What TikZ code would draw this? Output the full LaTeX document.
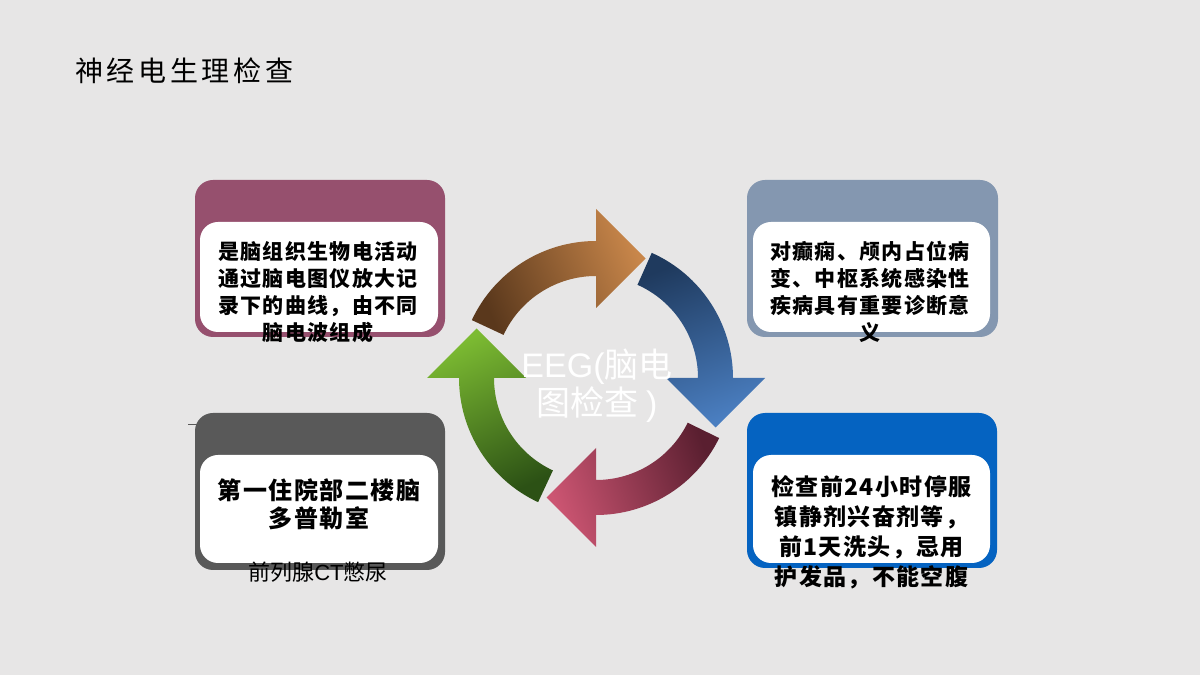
\documentclass[tikz,border=0pt]{standalone}
\usepackage{fontspec}
\setmainfont{Liberation Sans}
\newfontfamily\cjk{Noto Sans CJK SC}
\newfontfamily\cjktitle{Noto Sans CJK SC}[LetterSpace=13]
\newfontfamily\cjkbox{Noto Sans CJK SC}[LetterSpace=6]
\newfontfamily\lat{Liberation Sans}
\definecolor{bgc}{HTML}{E7E6E6}
\definecolor{purp}{HTML}{96506E}
\definecolor{slate}{HTML}{8497B0}
\definecolor{dgray}{HTML}{595959}
\definecolor{dblue}{HTML}{0563C1}
\definecolor{orL}{HTML}{C8864A}
\definecolor{orD}{HTML}{5A381C}
\definecolor{blD}{HTML}{1F3A5E}
\definecolor{blL}{HTML}{4A7EC0}
\definecolor{rdD}{HTML}{5A1F30}
\definecolor{rdL}{HTML}{CC5572}
\definecolor{grD}{HTML}{2C5115}
\definecolor{grL}{HTML}{7CBB32}
\tikzset{
  outerbox/.style={rounded corners=18pt, inner sep=0pt, minimum width=250pt, minimum height=157pt},
  innerbox/.style={fill=white, rounded corners=18pt, inner sep=0pt, minimum width=238pt, minimum height=110pt},
  boxtext/.style={align=center, inner sep=0pt, font=\cjkbox\bfseries\fontsize{21}{27}\selectfont},
}
\begin{document}
\begin{tikzpicture}[x=1pt,y=1pt]
\useasboundingbox (0,0) rectangle (1200,675);
\fill[bgc] (0,0) rectangle (1200,675);
% title
\node[anchor=west, inner sep=0pt, font=\cjktitle\fontsize{28}{32}\selectfont] (title) at (75,604) {神经电生理检查};
% small dash
\coordinate (dashA) at (188,251);
\coordinate (dashB) at (200,251);
\draw[dgray, line width=0.8pt] (dashA) -- (dashB);
% boxes
\node[outerbox, fill=purp] (tlo) at (320,416.5) {};
\node[innerbox] (tli) at (319,398) {};
\node[outerbox, fill=slate, minimum width=251pt] (tro) at (872.5,416.5) {};
\node[innerbox, minimum width=237pt] (tri) at (871.5,398) {};
\node[outerbox, fill=dgray] (blo) at (320,183.5) {};
\node[innerbox, minimum height=108pt] (bli) at (319,166) {};
\node[outerbox, fill=dblue, minimum height=155pt] (bro) at (872,184.5) {};
\node[innerbox, minimum width=237pt, minimum height=108pt] (bri) at (871.5,166) {};
% box texts
\node[boxtext] (tlt) at (318,382.5) {是脑组织生物电活动\\通过脑电图仪放大记\\录下的曲线，由不同\\脑电波组成};
\node[boxtext] (trt) at (870,383) {对癫痫、颅内占位病\\变、中枢系统感染性\\疾病具有重要诊断意\\义};
\node[boxtext, font=\cjkbox\bfseries\fontsize{24}{28}\selectfont] (blt) at (319,171) {第一住院部二楼脑\\多普勒室};
\node[inner sep=0pt, font=\cjk\fontsize{22}{26}\selectfont] (blx) at (318,103) {前列腺{\lat CT}憋尿};
\node[boxtext, font=\cjkbox\bfseries\fontsize{23}{30}\selectfont] (brt) at (871.5,143) {检查前24小时停服\\镇静剂兴奋剂等，\\前1天洗头，忌用\\护发品，不能空腹};
% circular arrows
\begin{scope}[shift={(596,297)}]
\shade[top color=orL, bottom color=orD, shading angle=-67]
  (155:137) arc[start angle=155, end angle=90, radius=137] -- (90:169) -- (49.5,119.5) -- (90:70) -- (90:102) arc[start angle=90, end angle=155, radius=102] -- cycle;
\shade[top color=blL, bottom color=blD, shading angle=-159]
  (66:137) arc[start angle=66, end angle=0, radius=137] -- (0:169) -- (119.5,-49.5) -- (0:70) -- (0:102) arc[start angle=0, end angle=66, radius=102] -- cycle;
\shade[top color=rdL, bottom color=rdD, shading angle=110]
  (-26:137) arc[start angle=-26, end angle=-90, radius=137] -- (-90:169) -- (-49.5,-119.5) -- (-90:70) -- (-90:102) arc[start angle=-90, end angle=-26, radius=102] -- cycle;
\shade[top color=grL, bottom color=grD, shading angle=25]
  (-115:137) arc[start angle=-115, end angle=-180, radius=137] -- (-180:169) -- (-119.5,49.5) -- (-180:70) -- (-180:102) arc[start angle=-180, end angle=-115, radius=102] -- cycle;
\end{scope}
% center text
\node[align=center, inner sep=0pt, text=white, font=\cjk\fontsize{34}{38}\selectfont] (ctr) at (597,289) {{\lat EEG(}脑电\\图检查 {\lat )}};
\end{tikzpicture}
\end{document}
